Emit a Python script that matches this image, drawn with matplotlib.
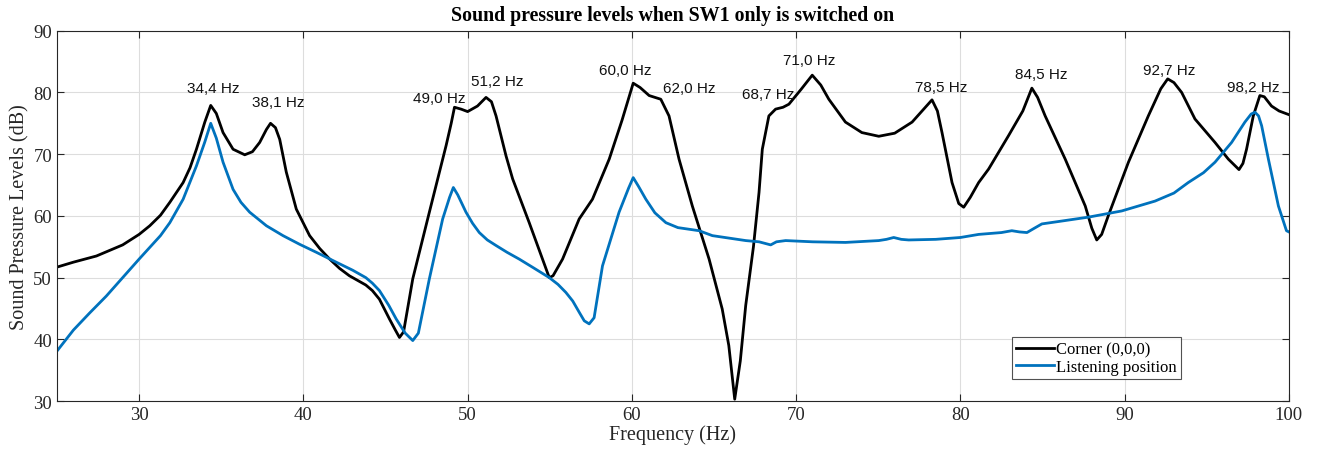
import matplotlib
matplotlib.use("Agg")
import matplotlib.pyplot as plt

# Corner (0,0,0)
corner_f = [25, 26, 27.4, 29, 30, 30.65, 31.3, 31.87, 32.68, 33.1, 33.49, 34.0, 34.36, 34.7, 35.11, 35.72,
            36.43, 36.9, 37.34, 37.75, 38.0, 38.3, 38.56, 38.96, 39.57, 40.38, 41.0, 41.6, 42.2, 42.8,
            43.4, 43.8, 44.2, 44.63, 45.24, 45.6, 45.85, 46.1, 46.66, 47.67, 48.69, 49.0, 49.2, 49.6,
            50.0, 50.6, 51.12, 51.45, 51.73, 52.34, 52.74, 53.75, 54.97, 55.2, 55.78, 56.79, 57.6,
            58.62, 59.4, 60.08, 60.5, 61.05, 61.76, 62.26, 62.87, 63.68, 64.7, 65.5, 65.9, 66.26, 66.6,
            66.93, 67.4, 67.74, 67.94, 68.34, 68.75, 69.2, 69.56, 70.3, 70.98, 71.5, 71.99, 73.0, 74.0,
            75.03, 76.0, 77.06, 77.8, 78.27, 78.6, 78.88, 79.49, 79.9, 80.2, 80.6, 81.11, 81.72, 82.93,
            83.8, 84.35, 84.7, 85.16, 86.38, 87.6, 88.0, 88.3, 88.6, 89.0, 90.23, 91.44, 92.2, 92.62,
            93.0, 93.47, 94.28, 95.5, 96.31, 96.96, 97.2, 97.42, 97.83, 98.23, 98.5, 98.94, 99.4, 100]
corner_db = [51.7, 52.5, 53.5, 55.3, 57.0, 58.4, 60.1, 62.2, 65.4, 67.8, 70.8, 75.2, 77.9, 76.6, 73.5, 70.8,
             69.9, 70.4, 71.9, 74.0, 75.0, 74.3, 72.4, 67.1, 61.1, 56.8, 54.7, 53.0, 51.5, 50.3,
             49.4, 48.8, 47.9, 46.5, 43.3, 41.5, 40.3, 41.2, 49.8, 60.6, 71.4, 75.0, 77.6, 77.3,
             76.9, 77.8, 79.2, 78.5, 76.2, 69.7, 66.0, 58.9, 50.0, 50.3, 53.0, 59.5, 62.7,
             69.2, 75.5, 81.5, 80.8, 79.5, 78.9, 76.2, 69.2, 61.6, 53.0, 44.9, 39.0, 30.3, 36.5,
             45.5, 55.0, 63.8, 70.8, 76.2, 77.3, 77.6, 78.1, 80.5, 82.8, 81.2, 78.9, 75.2, 73.5,
             72.9, 73.4, 75.2, 77.4, 78.8, 77.0, 73.5, 65.4, 62.0, 61.4, 63.0, 65.4, 67.6, 73.0,
             77.0, 80.7, 79.2, 76.2, 69.2, 61.6, 58.0, 56.1, 57.0, 60.0, 68.7, 76.2, 80.6, 82.2,
             81.6, 80.0, 75.7, 71.9, 69.2, 67.5, 68.5, 70.8, 76.2, 79.5, 79.3, 77.8, 77.0, 76.4]

# Listening position
listen_f = [25, 26, 27, 28, 29, 30, 30.65, 31.3, 31.87, 32.68, 33.49, 33.99, 34.36, 34.7, 35.11, 35.72,
            36.2, 36.73, 37.75, 38.76, 39.77, 40.79, 42.0, 43.0, 43.8, 44.2, 44.63, 45.2, 45.65, 46.2,
            46.66, 47.0, 47.67, 48.48, 48.9, 49.13, 49.4, 49.9, 50.3, 50.71, 51.2, 51.73, 52.4, 53.14,
            54.0, 54.97, 55.5, 55.98, 56.4, 56.79, 57.1, 57.4, 57.7, 58.21, 59.22, 59.8, 60.08, 60.4,
            60.85, 61.4, 62.07, 62.8, 64.09, 64.9, 66.93, 67.74, 68.45, 68.8, 69.36, 71.0, 73.0, 75.03,
            75.5, 75.94, 76.4, 76.85, 78.5, 80.0, 81.11, 82.5, 83.13, 83.6, 84.05, 84.5, 84.96, 86.0,
            87.8, 89.82, 91.85, 93.0, 93.87, 94.8, 95.5, 96.51, 97.32, 97.7, 97.93, 98.15, 98.34,
            98.75, 99.36, 99.85, 100]
listen_db = [38.1, 41.5, 44.3, 47.0, 50.0, 53.0, 54.9, 56.8, 58.9, 62.7, 68.1, 71.9, 75.0, 72.6, 68.7, 64.3,
             62.2, 60.6, 58.4, 56.8, 55.4, 54.1, 52.5, 51.2, 50.0, 49.1, 47.9, 45.5, 43.3, 41.0,
             39.8, 41.0, 49.8, 59.5, 63.0, 64.6, 63.4, 60.6, 58.8, 57.3, 56.1, 55.2, 54.1, 53.0,
             51.6, 50.0, 48.9, 47.6, 46.2, 44.4, 43.0, 42.5, 43.5, 51.9, 60.6, 64.5, 66.2, 64.8,
             62.7, 60.5, 58.9, 58.1, 57.6, 56.8, 56.0, 55.8, 55.3, 55.8, 56.0, 55.8, 55.7, 56.0,
             56.2, 56.5, 56.2, 56.1, 56.2, 56.5, 57.0, 57.3, 57.6, 57.4, 57.3, 58.0, 58.7, 59.1,
             59.8, 60.8, 62.4, 63.7, 65.4, 67.0, 68.7, 71.9, 75.2, 76.5, 76.8, 76.2, 74.6,
             69.2, 61.6, 57.6, 57.4]

# peak labels: text, x, y
peak_labels = ["34,4 Hz", "38,1 Hz", "49,0 Hz", "51,2 Hz", "60,0 Hz", "62,0 Hz",
               "68,7 Hz", "71,0 Hz", "78,5 Hz", "84,5 Hz", "92,7 Hz", "98,2 Hz"]
peak_x = [34.5, 38.5, 48.3, 51.8, 59.6, 63.5, 68.3, 70.8, 78.8, 84.9, 92.7, 97.8]
peak_y = [80.7, 78.4, 79.1, 81.8, 83.6, 80.7, 79.7, 85.3, 80.9, 83.0, 83.6, 80.9]

plt.rcParams['font.family'] = ['Liberation Serif', 'DejaVu Serif']

fig = plt.figure(figsize=(13.19, 4.6), dpi=100)
ax = fig.add_axes([0.0432, 0.126, 0.934, 0.805])

ax.plot(corner_f, corner_db, color='black', lw=2.0, label='Corner (0,0,0)')
ax.plot(listen_f, listen_db, color='#0072BD', lw=2.0, label='Listening position')

for txt, x, y in zip(peak_labels, peak_x, peak_y):
    ax.text(x, y, txt, ha='center', va='center', fontsize=11,
            family=['Liberation Sans', 'DejaVu Sans'], color='#111111')

ax.set_xlim(25, 100)
ax.set_ylim(30, 90)
ax.set_xticks([30, 40, 50, 60, 70, 80, 90, 100])
ax.set_yticks([30, 40, 50, 60, 70, 80, 90])
ax.grid(True, color='#dddddd', lw=0.8)
ax.set_axisbelow(True)
ax.tick_params(direction='in', top=True, right=True, labelsize=13.5, colors='#262626', length=5)
for s in ax.spines.values():
    s.set_color('#262626')
    s.set_linewidth(0.8)

ax.set_xlabel('Frequency (Hz)', fontsize=14.5, color='#262626', labelpad=1)
ax.set_ylabel('Sound Pressure Levels (dB)', fontsize=14.5, color='#262626', labelpad=3)
ax.set_title('Sound pressure levels when SW1 only is switched on', fontsize=14.3,
             fontweight='bold', pad=8)

leg = ax.legend(loc='upper left', bbox_to_anchor=(0.775, 0.172), fontsize=12, frameon=True,
                fancybox=False, edgecolor='#262626', borderpad=0.25, handlelength=2.3,
                handletextpad=0.1, labelspacing=0.1, borderaxespad=0)
leg.get_frame().set_linewidth(0.8)

fig.savefig('out.png', dpi=100)
